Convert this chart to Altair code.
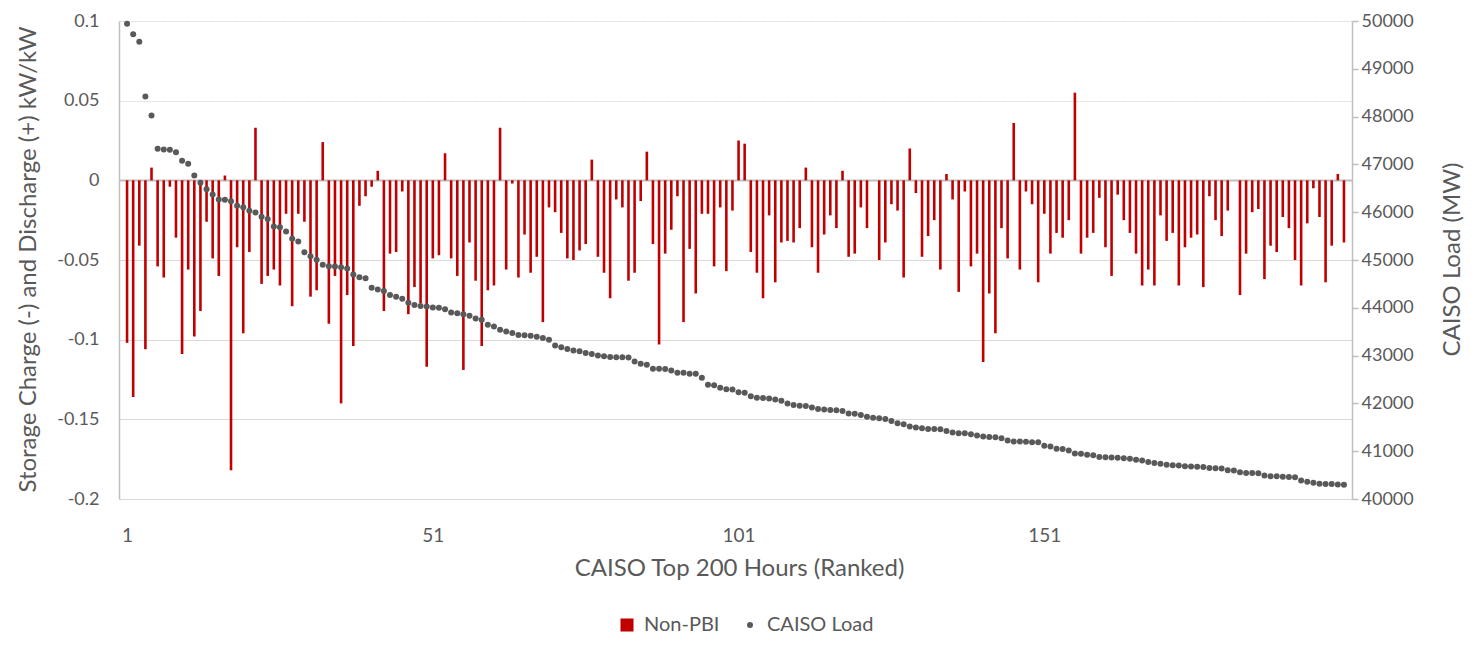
import altair as alt
import pandas as pd

hours = list(range(1, 201))

non_pbi = [
    -0.102, -0.136, -0.041, -0.106, 0.008, -0.054, -0.061, -0.004, -0.036, -0.109,
    -0.056, -0.098, -0.082, -0.026, -0.049, -0.060, 0.003, -0.182, -0.042, -0.096,
    -0.045, 0.033, -0.065, -0.060, -0.056, -0.066, -0.021, -0.079, -0.021, -0.026,
    -0.073, -0.069, 0.024, -0.090, -0.060, -0.140, -0.072, -0.104, -0.016, -0.010,
    -0.004, 0.006, -0.082, -0.046, -0.045, -0.007, -0.084, -0.067, -0.077, -0.117,
    -0.049, -0.047, 0.017, -0.049, -0.060, -0.119, -0.039, -0.063, -0.104, -0.069,
    -0.066, 0.033, -0.056, -0.002, -0.061, -0.034, -0.058, -0.048, -0.089, -0.017,
    -0.020, -0.033, -0.049, -0.050, -0.044, -0.040, 0.013, -0.048, -0.058, -0.074,
    -0.012, -0.017, -0.063, -0.058, -0.013, 0.018, -0.040, -0.103, -0.046, -0.031,
    -0.010, -0.089, -0.043, -0.071, -0.021, -0.021, -0.054, -0.017, -0.057, -0.019,
    0.025, 0.023, -0.045, -0.058, -0.074, -0.022, -0.064, -0.039, -0.038, -0.039,
    -0.030, 0.008, -0.042, -0.058, -0.034, -0.022, -0.030, 0.006, -0.048, -0.046,
    -0.017, -0.030, 0.000, -0.050, -0.039, -0.015, -0.019, -0.061, 0.020, -0.008,
    -0.048, -0.035, -0.025, -0.056, 0.004, -0.012, -0.070, -0.007, -0.054, -0.046,
    -0.114, -0.071, -0.096, -0.030, -0.049, 0.036, -0.056, -0.007, -0.015, -0.064,
    -0.021, -0.046, -0.033, -0.036, -0.025, 0.055, -0.046, -0.036, -0.033, -0.011,
    -0.042, -0.060, -0.009, -0.025, -0.033, -0.046, -0.066, -0.056, -0.066, -0.022,
    -0.038, -0.033, -0.066, -0.042, -0.036, -0.034, -0.067, -0.010, -0.025, -0.035,
    -0.019, 0.000, -0.072, -0.046, -0.020, -0.018, -0.062, -0.041, -0.045, -0.023,
    -0.030, -0.050, -0.066, -0.027, -0.005, -0.023, -0.064, -0.041, 0.004, -0.039,
]

caiso_load = [
    49940, 49724, 49564, 48423, 48022, 47330, 47310, 47305, 47255, 47075,
    47012, 46770, 46618, 46480, 46369, 46265, 46262, 46231, 46134, 46105,
    46031, 45996, 45906, 45858, 45699, 45685, 45595, 45443, 45388, 45160,
    45077, 45007, 44903, 44869, 44866, 44848, 44820, 44695, 44641, 44620,
    44419, 44384, 44350, 44267, 44232, 44191, 44108, 44060, 44039, 44025,
    44004, 44000, 43970, 43900, 43886, 43866, 43832, 43776, 43749, 43645,
    43610, 43541, 43506, 43471, 43432, 43428, 43416, 43396, 43368, 43334,
    43209, 43174, 43140, 43105, 43091, 43056, 43036, 43001, 42988, 42972,
    42968, 42966, 42962, 42877, 42828, 42807, 42726, 42724, 42720, 42690,
    42643, 42640, 42622, 42618, 42538, 42392, 42379, 42330, 42296, 42290,
    42232, 42225, 42151, 42118, 42114, 42102, 42081, 42054, 41998, 41964,
    41952, 41948, 41915, 41881, 41875, 41862, 41858, 41839, 41790, 41785,
    41757, 41722, 41701, 41687, 41674, 41633, 41583, 41563, 41515, 41494,
    41480, 41466, 41462, 41458, 41425, 41390, 41378, 41374, 41355, 41328,
    41307, 41295, 41291, 41272, 41224, 41205, 41203, 41200, 41189, 41185,
    41114, 41100, 41052, 41045, 41017, 40950, 40946, 40927, 40913, 40878,
    40875, 40870, 40862, 40850, 40840, 40823, 40803, 40775, 40754, 40740,
    40719, 40705, 40700, 40685, 40680, 40675, 40671, 40650, 40645, 40636,
    40600, 40595, 40560, 40546, 40543, 40540, 40490, 40477, 40475, 40463,
    40460, 40456, 40387, 40360, 40339, 40318, 40316, 40314, 40304, 40300,
]

series_names = ["Non-PBI", "CAISO Load"]
series_colors = ["#C00000", "#595959"]
series_shapes = ["square", "circle"]
series_sizes = [170, 36]
left_ticks = [-0.2, -0.15, -0.1, -0.05, 0, 0.05, 0.1]
right_ticks = list(range(40000, 50001, 1000))
x_ticks = [1, 51, 101, 151]

df = pd.DataFrame({"hour": hours, "non_pbi": non_pbi, "load": caiso_load})

GREY = "#595959"
FONT = "Lato"
TITLE_SIZE = 24

x_enc = alt.X(
    "hour:Q",
    scale=alt.Scale(domain=[0.5, 200.5], nice=False, zero=False),
    axis=alt.Axis(
        values=x_ticks, title="CAISO Top 200 Hours (Ranked)", domain=False,
        ticks=False, grid=False, labelPadding=27, labelFontSize=19,
        labelColor=GREY, titleFontSize=TITLE_SIZE, titleColor=GREY,
        titleFontWeight="normal", titleX=620, titleY=69, titleBaseline="middle",
        labelFlush=False,
    ),
)

legend = alt.Legend(
    title=None, orient="none", legendX=498, legendY=594, direction="horizontal",
    labelFontSize=20, labelColor=GREY, labelFont=FONT,
    symbolStrokeWidth=0, labelOffset=7, columnPadding=20, padding=0,
)

color_enc = alt.Color("series:N", scale=alt.Scale(domain=series_names, range=series_colors), legend=legend)

bars = alt.Chart(df).transform_calculate(series="'Non-PBI'").mark_bar(size=2.6).encode(
    x=x_enc,
    y=alt.Y(
        "non_pbi:Q",
        scale=alt.Scale(domain=[-0.2, 0.1], nice=False, zero=False),
        axis=alt.Axis(
            orient="left", values=left_ticks, labelExpr="'' + datum.value",
            title="Storage Charge (-) and Discharge (+) kW/kW",
            domain=True, domainColor="#BFBFBF", domainWidth=1.5, ticks=False,
            labelPadding=20, labelFontSize=18, labelColor=GREY,
            titleFontSize=TITLE_SIZE, titleColor=GREY, titleFontWeight="normal",
            titleAngle=270, titleX=-91, titleY=238, titleAlign="center",
            titleBaseline="middle",
            grid=True,
            gridColor={"condition": {"test": "datum.value === 0", "value": "#BFBFBF"}, "value": "#D9D9D9"},
            gridWidth={"condition": {"test": "datum.value === 0", "value": 2}, "value": 1.2},
            gridDash={"condition": {"test": "datum.value > 0", "value": [2, 1]}, "value": []},
        ),
    ),
    y2=alt.datum(0),
    color=color_enc,
)

points = alt.Chart(df).transform_calculate(series="'CAISO Load'").mark_point(filled=True, opacity=1, strokeWidth=0).encode(
    x=x_enc,
    y=alt.Y(
        "load:Q",
        scale=alt.Scale(domain=[40000, 50000], nice=False, zero=False),
        axis=alt.Axis(
            orient="right", values=right_ticks, labelExpr="'' + datum.value",
            title="CAISO Load (MW)", grid=False, domain=True,
            domainColor="#BFBFBF", domainWidth=1.5, ticks=True, tickColor="#BFBFBF",
            tickSize=6, tickWidth=1.5, labelPadding=3, labelFontSize=18, labelColor=GREY,
            titleFontSize=TITLE_SIZE, titleColor=GREY, titleFontWeight="normal",
            titleAngle=270, titleX=100, titleY=238, titleAlign="center",
            titleBaseline="middle",
        ),
    ),
    color=color_enc,
    shape=alt.Shape("series:N", scale=alt.Scale(domain=series_names, range=series_shapes), legend=legend),
    size=alt.Size("series:N", scale=alt.Scale(type="ordinal", domain=series_names, range=series_sizes), legend=legend),
)

chart = (
    alt.layer(bars, points)
    .resolve_scale(y="independent")
    .properties(
        width=1233, height=478,
        autosize=alt.AutoSizeParams(type="none"),
        padding={"left": 111, "top": 13, "right": 113, "bottom": 137},
    )
    .configure(font=FONT)
    .configure_view(stroke=None)
)

chart.save("out.html", embed_options={"renderer": "svg", "actions": False})
